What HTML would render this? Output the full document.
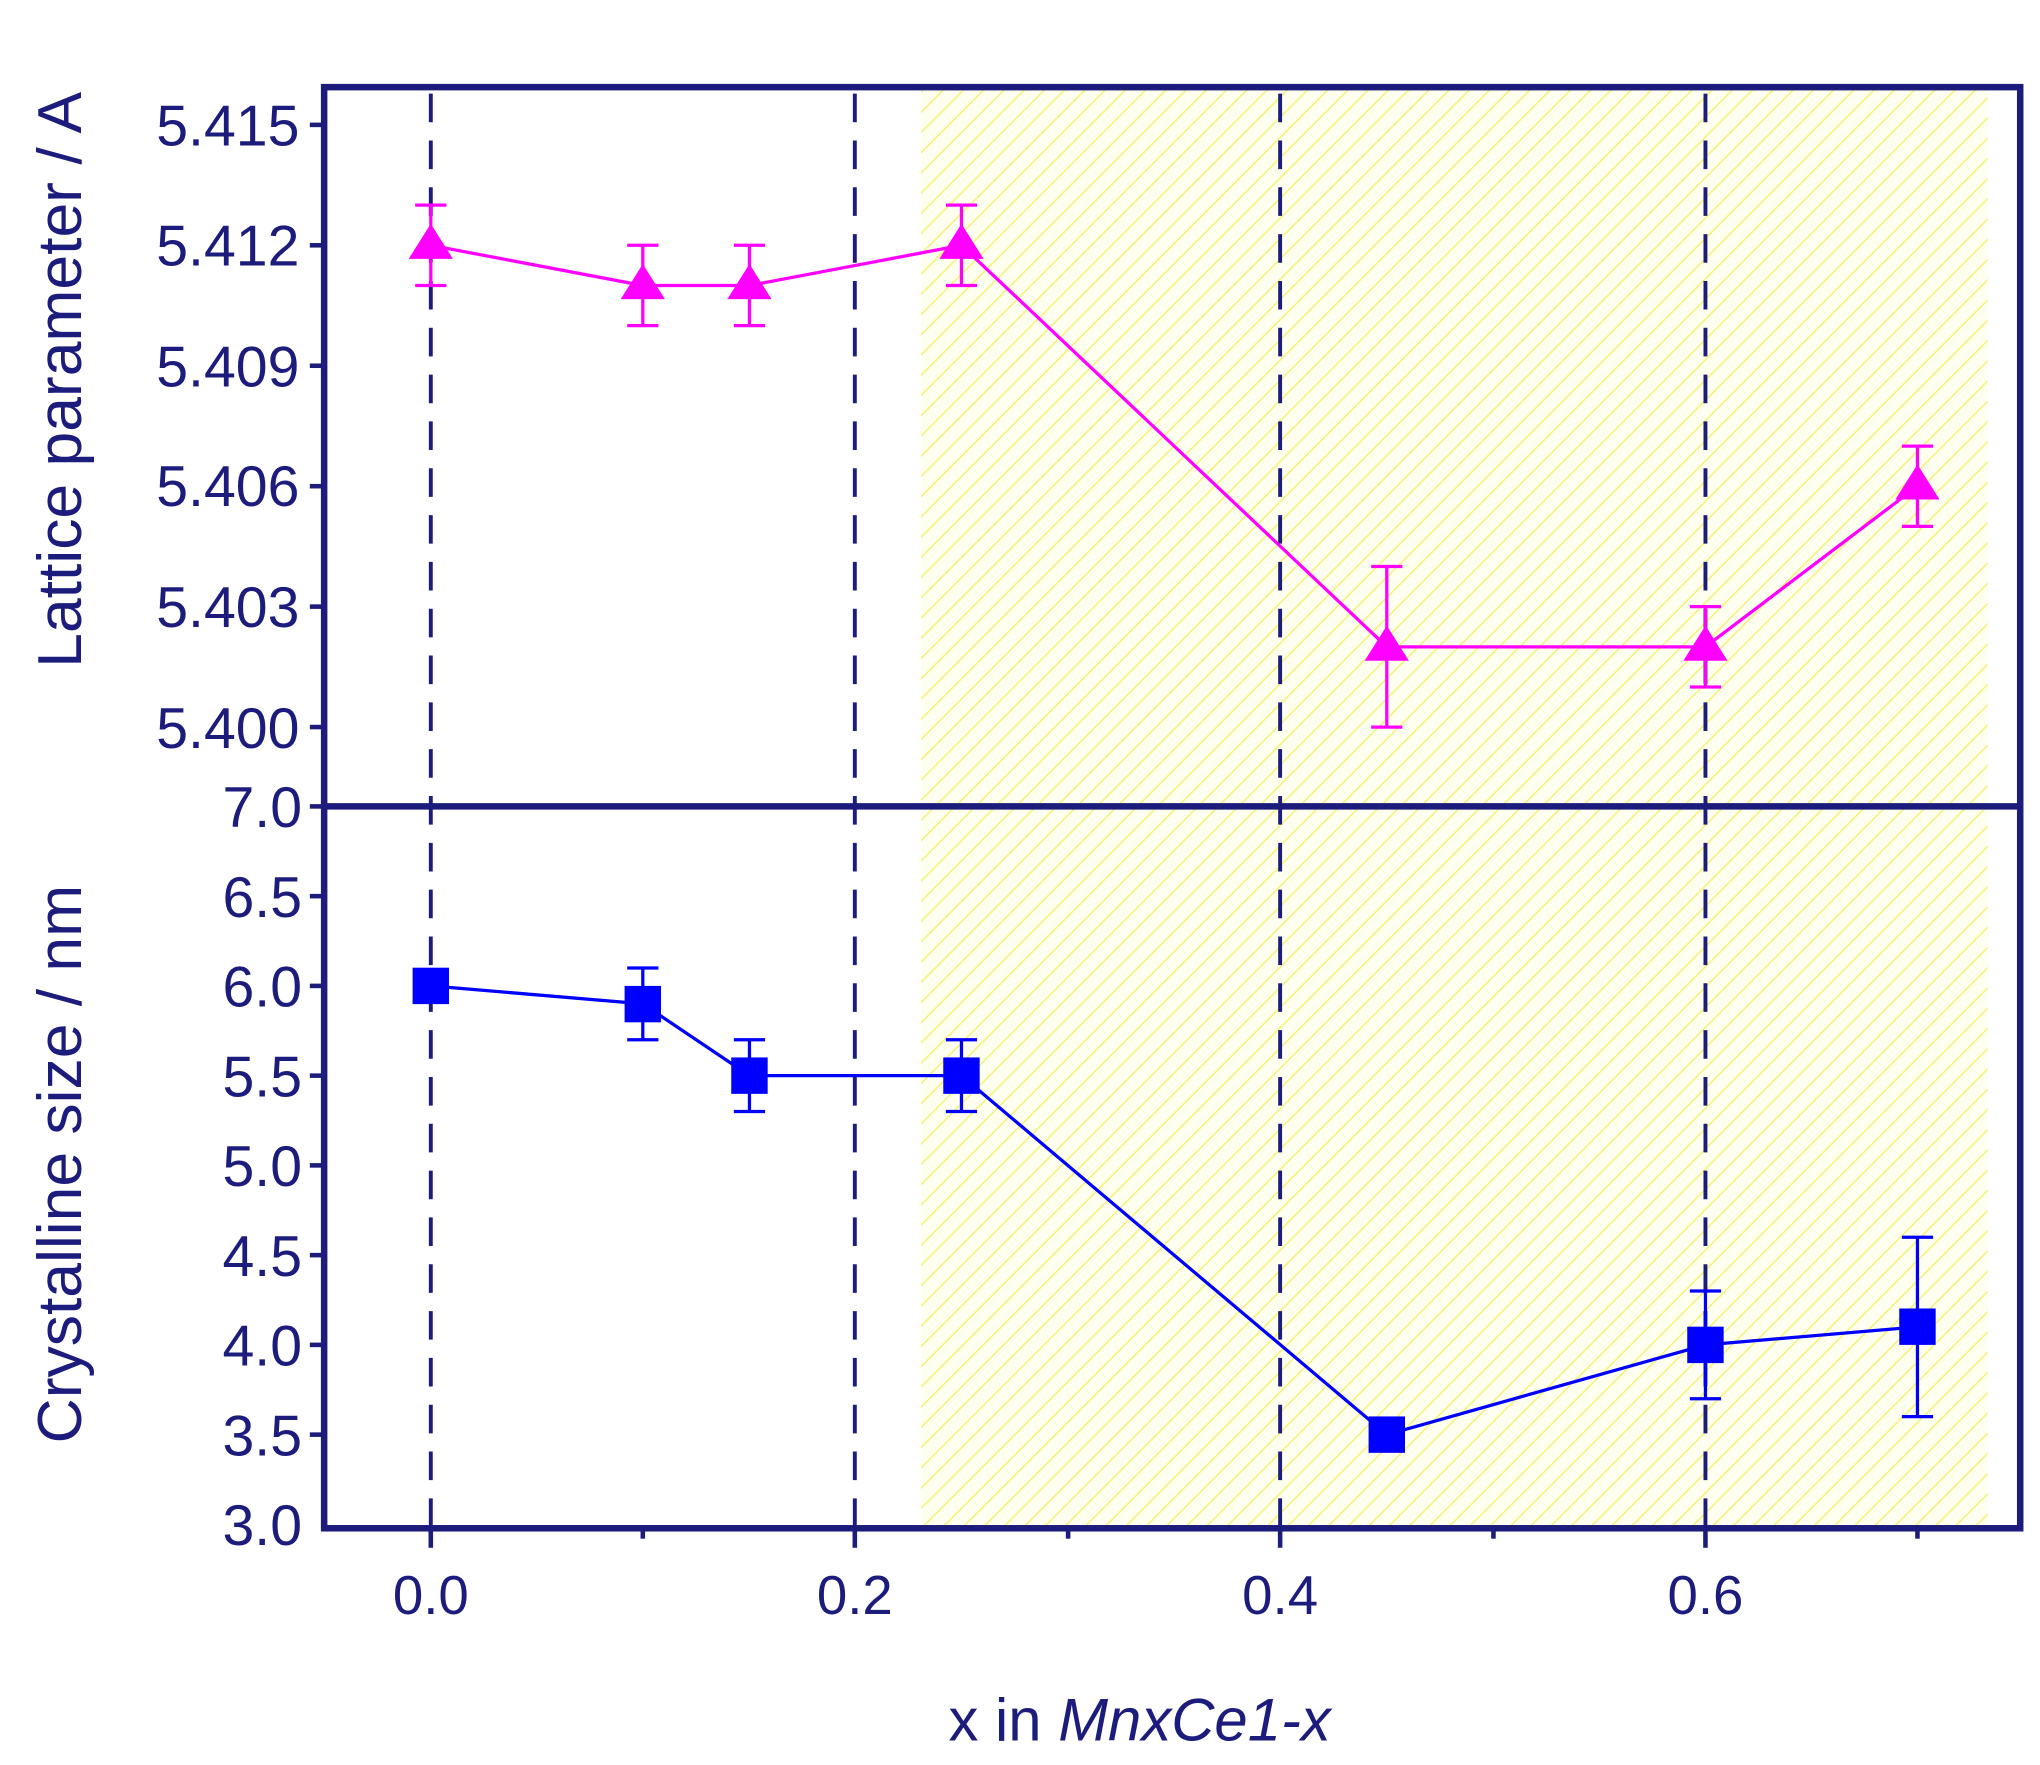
<!DOCTYPE html>
<html><head><meta charset="utf-8"><style>
html,body{margin:0;padding:0;background:#fff;}
svg{display:block;}
text{font-family:"Liberation Sans",sans-serif;fill:#1c1c7c;}
</style></head><body>
<svg width="2040" height="1765" viewBox="0 0 1568 1357" xmlns="http://www.w3.org/2000/svg">
<defs>
<pattern id="h" patternUnits="userSpaceOnUse" width="11" height="11" patternTransform="rotate(45)">
<rect width="11" height="11" fill="#fffff0"/>
<line x1="0" y1="0" x2="0" y2="11" stroke="#f5f27a" stroke-width="2.4"/>
</pattern>
</defs>
<rect x="708" y="68" width="820" height="1107" fill="url(#h)"/>
<g stroke="#1c1c7c" stroke-width="3" stroke-dasharray="22,14">
<line x1="331" y1="72" x2="331" y2="1175"/>
<line x1="657" y1="72" x2="657" y2="1175"/>
<line x1="984" y1="72" x2="984" y2="1175"/>
<line x1="1311" y1="72" x2="1311" y2="1175"/>
</g>
<g stroke="#1c1c7c" stroke-width="5" fill="none">
<rect x="249" y="67" width="1304" height="1108"/>
<line x1="249" y1="620" x2="1553" y2="620"/>
</g>
<g stroke="#1c1c7c" stroke-width="3.5">
<line x1="238" y1="96" x2="249" y2="96"/>
<line x1="238" y1="188.6" x2="249" y2="188.6"/>
<line x1="238" y1="281.2" x2="249" y2="281.2"/>
<line x1="238" y1="373.8" x2="249" y2="373.8"/>
<line x1="238" y1="466.4" x2="249" y2="466.4"/>
<line x1="238" y1="559" x2="249" y2="559"/>
<line x1="238" y1="620" x2="249" y2="620"/>
<line x1="238" y1="689" x2="249" y2="689"/>
<line x1="238" y1="758" x2="249" y2="758"/>
<line x1="238" y1="827" x2="249" y2="827"/>
<line x1="238" y1="896" x2="249" y2="896"/>
<line x1="238" y1="965" x2="249" y2="965"/>
<line x1="238" y1="1034" x2="249" y2="1034"/>
<line x1="238" y1="1103" x2="249" y2="1103"/>
<line x1="331" y1="1175" x2="331" y2="1190"/>
<line x1="657" y1="1175" x2="657" y2="1190"/>
<line x1="984" y1="1175" x2="984" y2="1190"/>
<line x1="1311" y1="1175" x2="1311" y2="1190"/>
<line x1="494" y1="1175" x2="494" y2="1183"/>
<line x1="821" y1="1175" x2="821" y2="1183"/>
<line x1="1148" y1="1175" x2="1148" y2="1183"/>
<line x1="1474" y1="1175" x2="1474" y2="1183"/>
</g>
<g font-size="44" text-anchor="end">
<text x="230" y="112">5.415</text>
<text x="230" y="204">5.412</text>
<text x="230" y="297">5.409</text>
<text x="230" y="389">5.406</text>
<text x="230" y="482">5.403</text>
<text x="230" y="575">5.400</text>
<text x="232" y="636">7.0</text>
<text x="232" y="705">6.5</text>
<text x="232" y="774">6.0</text>
<text x="232" y="843">5.5</text>
<text x="232" y="912">5.0</text>
<text x="232" y="981">4.5</text>
<text x="232" y="1050">4.0</text>
<text x="232" y="1119">3.5</text>
<text x="232" y="1188">3.0</text>
</g>
<g font-size="42" text-anchor="middle">
<text x="331" y="1241">0.0</text>
<text x="657" y="1241">0.2</text>
<text x="984" y="1241">0.4</text>
<text x="1311" y="1241">0.6</text>
</g>
<text x="876" y="1338" font-size="46" text-anchor="middle">x in <tspan font-style="italic">MnxCe1-x</tspan></text>
<text transform="translate(62,292) rotate(-90)" font-size="48" text-anchor="middle">Lattice parameter / A</text>
<text transform="translate(62,895) rotate(-90)" font-size="48" text-anchor="middle">Crystalline size / nm</text>
<g stroke="#ff00ff" stroke-width="2.5" fill="none">
<polyline points="331,188.6 494,219.5 576,219.5 739,188.6 1066,497.3 1311,497.3 1474,373.8"/>
<path d="M331,157.7V219.5M319,157.7H343M319,219.5H343"/>
<path d="M494,188.6V250.4M482,188.6H506M482,250.4H506"/>
<path d="M576,188.6V250.4M564,188.6H588M564,250.4H588"/>
<path d="M739,157.7V219.5M727,157.7H751M727,219.5H751"/>
<path d="M1066,435.5V559M1054,435.5H1078M1054,559H1078"/>
<path d="M1311,466.4V528.2M1299,466.4H1323M1299,528.2H1323"/>
<path d="M1474,343V404.7M1462,343H1486M1462,404.7H1486"/>
</g>
<g fill="#ff00ff">
<path d="M331,172 L348,199 L314,199Z"/>
<path d="M494,203 L511,230 L477,230Z"/>
<path d="M576,203 L593,230 L559,230Z"/>
<path d="M739,172 L756,199 L722,199Z"/>
<path d="M1066,481 L1083,508 L1049,508Z"/>
<path d="M1311,481 L1328,508 L1294,508Z"/>
<path d="M1474,357 L1491,384 L1457,384Z"/>
</g>
<g stroke="#0000ff" stroke-width="2.5" fill="none">
<polyline points="331,758 494,771.8 576,827 739,827 1066,1103 1311,1034 1474,1020.2"/>
<path d="M494,744.2V799.4M482,744.2H506M482,799.4H506"/>
<path d="M576,799.4V854.6M564,799.4H588M564,854.6H588"/>
<path d="M739,799.4V854.6M727,799.4H751M727,854.6H751"/>
<path d="M1311,992.6V1075.4M1299,992.6H1323M1299,1075.4H1323"/>
<path d="M1474,951.2V1089.2M1462,951.2H1486M1462,1089.2H1486"/>
</g>
<g fill="#0000ff">
<rect x="317" y="744" width="28" height="28"/>
<rect x="480" y="758" width="28" height="28"/>
<rect x="562" y="813" width="28" height="28"/>
<rect x="725" y="813" width="28" height="28"/>
<rect x="1052" y="1089" width="28" height="28"/>
<rect x="1297" y="1020" width="28" height="28"/>
<rect x="1460" y="1006" width="28" height="28"/>
</g>
</svg>
</body></html>
